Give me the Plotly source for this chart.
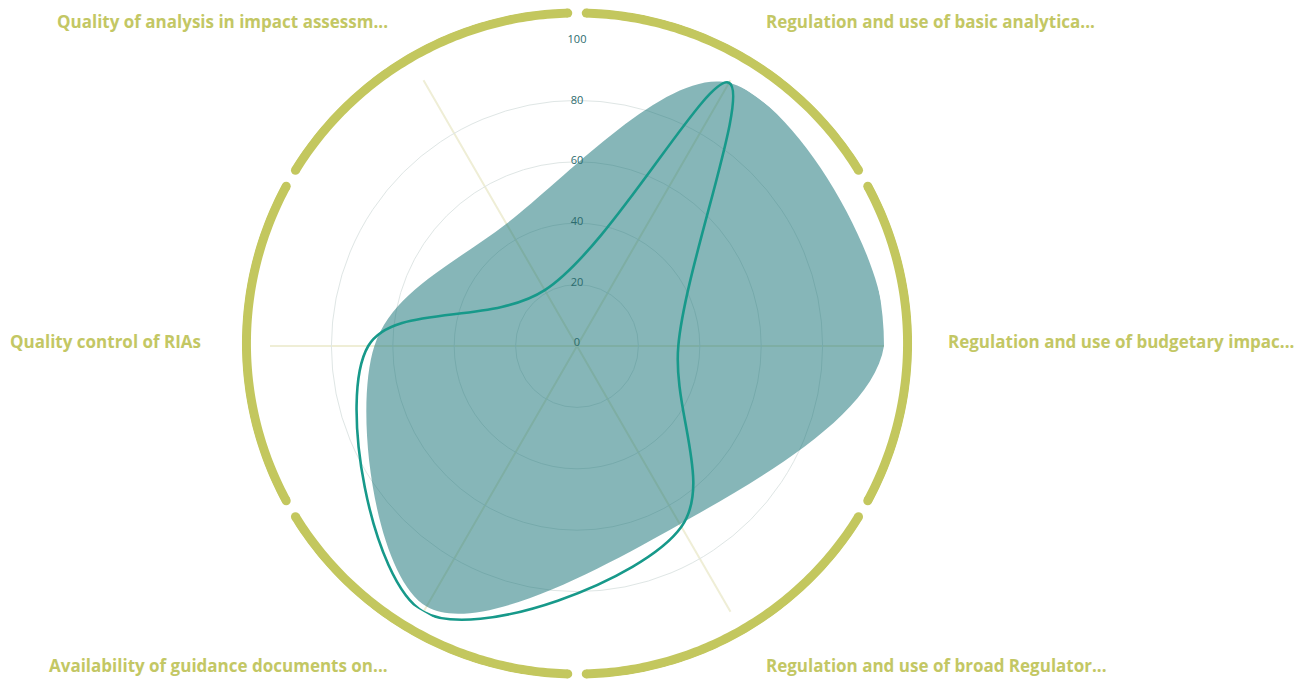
import numpy as np
import plotly.graph_objects as go

categories = [
    "Regulation and use of basic analytical tools",
    "Regulation and use of budgetary impact assessment",
    "Regulation and use of broad Regulatory Impact Assessment",
    "Availability of guidance documents on RIA",
    "Quality control of RIAs",
    "Quality of analysis in impact assessments",
]
short_labels = [
    "Regulation and use of basic analytica...",
    "Regulation and use of budgetary impac...",
    "Regulation and use of broad Regulator...",
    "Availability of guidance documents on...",
    "Quality control of RIAs",
    "Quality of analysis in impact assessm...",
]
area_values = [99, 100, 67, 98, 66, 46]
line_values = [99, 33, 68, 100, 68, 21]
radial_ticks = [0, 20, 40, 60, 80, 100]

OFF = 8  # page body margin
W, H = 1305 - 2 * OFF, 687 - 2 * OFF
cx, cy = 577 - OFF, 346 - OFF
R1 = 307.0   # data radius (px)
R2 = 340.0   # ring subplot radius (px)
ring_r_px = 335.0
unit = R1 / 100.0

def dom(R):
    yc = H - cy
    return dict(x=[max(0, (cx - R) / W), min(1, (cx + R) / W)],
                y=[max(0, (yc - R) / H), min(1, (yc + R) / H)])

fig = go.Figure()

fig.add_trace(go.Scatterpolar(
    r=area_values + area_values[:1], theta=categories + categories[:1],
    mode="lines", line=dict(shape="spline", smoothing=1.0, width=0, color="rgba(0,0,0,0)"),
    fill="toself", fillcolor="rgba(13,109,113,0.5)", subplot="polar", hoverinfo="skip",
))
fig.add_trace(go.Scatterpolar(
    r=line_values + line_values[:1], theta=categories + categories[:1],
    mode="lines", line=dict(shape="spline", smoothing=1.0, width=2.6, color="#17998a"),
    subplot="polar", hoverinfo="skip",
))

# outer decorative ring (in polar2, units same as data: 100 = R1 px)
ring_color = "#c3c75e"
axis_angles = [60, 0, -60, -120, 180, 120]
half = 28.4
ring_r = ring_r_px / unit
for a in axis_angles:
    th = np.linspace(a - half, a + half, 80)
    fig.add_trace(go.Scatterpolar(
        r=[ring_r] * len(th), theta=th, mode="lines",
        line=dict(color=ring_color, width=9), subplot="polar2", hoverinfo="skip",
    ))
    fig.add_trace(go.Scatterpolar(
        r=[ring_r, ring_r], theta=[a - half, a + half], mode="markers",
        marker=dict(color=ring_color, size=9), subplot="polar2", hoverinfo="skip",
    ))

# radial tick labels centred on the vertical axis
fig.add_trace(go.Scatterpolar(
    r=radial_ticks, theta=[90] * len(radial_ticks), mode="text",
    text=[str(t) for t in radial_ticks],
    textfont=dict(family="Open Sans", size=11, color="#2c6b6d"),
    subplot="polar2", hoverinfo="skip",
))

fig.update_layout(
    width=W, height=H,
    margin=dict(l=0, r=0, t=0, b=0),
    paper_bgcolor="white", plot_bgcolor="white",
    showlegend=False,
    polar=dict(
        domain=dom(R1), bgcolor="rgba(0,0,0,0)",
        radialaxis=dict(range=[0, 100], tickvals=[20, 40, 60, 80], showticklabels=False,
                        showline=False, ticks="", gridcolor="#dfe6e5", gridwidth=1),
        angularaxis=dict(rotation=60, direction="clockwise", showticklabels=False,
                         ticks="", showline=False, gridcolor="#efeed6", gridwidth=2),
    ),
    polar2=dict(
        domain=dom(R2), bgcolor="rgba(0,0,0,0)",
        radialaxis=dict(range=[0, R2 / unit], visible=False),
        angularaxis=dict(visible=False, rotation=0, direction="counterclockwise"),
    ),
)

lab_font = dict(family="Open Sans", size=17, color="#c3c764", weight="bold")
# (text, x px, y px, xanchor, yanchor)
ann = [
    (short_labels[5], 390, 8, "right", "top"),
    (short_labels[0], 764, 8, "left", "top"),
    (short_labels[1], 1296, 341, "right", "middle"),
    (short_labels[4], 203, 341, "right", "middle"),
    (short_labels[3], 390, 665, "right", "middle"),
    (short_labels[2], 764, 665, "left", "middle"),
]
for txt, x, y, xa, ya in ann:
    fig.add_annotation(text="<b>%s</b>" % txt, x=(x - OFF) / W, y=1 - (y - OFF) / H,
                       xref="paper", yref="paper",
                       xanchor=xa, yanchor=ya, showarrow=False, font=lab_font)

fig.write_html("out.html")
